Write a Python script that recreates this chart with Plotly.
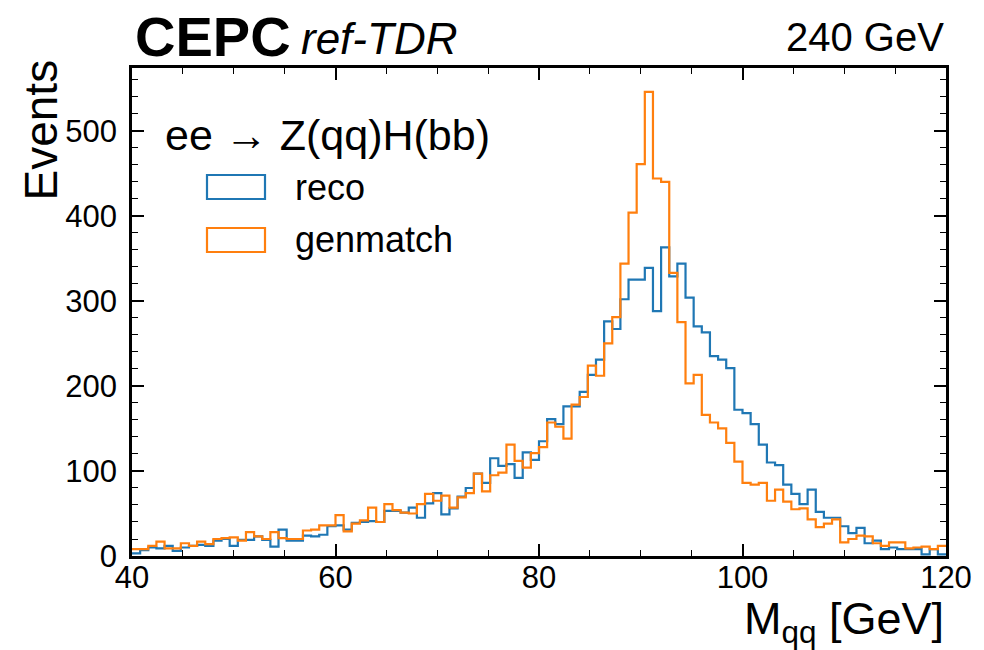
import numpy as np
import plotly.graph_objects as go

# Bin range of the Mqq histogram (100 bins, 40-120 GeV).
x_min = 40
x_max = 120
n_bins = 100

# Counts per bin.
reco = [
    3, 7, 10, 9, 12, 6, 10, 12, 13, 12,
    18, 20, 12, 19, 19, 23, 19, 11, 31, 18,
    18, 24, 23, 25, 35, 36, 31, 39, 40, 41,
    40, 53, 53, 51, 57, 45, 62, 74, 49, 56,
    70, 80, 97, 86, 115, 106, 108, 92, 122, 113,
    135, 161, 155, 176, 176, 193, 213, 231, 276, 267,
    302, 325, 325, 339, 288, 363, 329, 344, 304, 270,
    263, 235, 231, 221, 172, 168, 155, 131, 110, 107,
    84, 73, 61, 78, 52, 45, 45, 35, 27, 33,
    15, 18, 8, 10, 8, 8, 8, 2, 8, 2,
]
genmatch = [
    8, 8, 12, 17, 9, 9, 15, 12, 17, 14,
    20, 21, 22, 18, 28, 23, 20, 28, 21, 20,
    20, 30, 31, 36, 36, 48, 29, 38, 42, 57,
    40, 61, 54, 51, 50, 61, 73, 65, 71, 57,
    69, 74, 97, 76, 95, 98, 131, 112, 104, 121,
    128, 157, 152, 138, 178, 187, 224, 212, 250, 281,
    344, 404, 461, 546, 444, 440, 333, 275, 203, 213,
    166, 157, 150, 133, 111, 86, 84, 86, 65, 78,
    64, 55, 56, 43, 34, 38, 43, 16, 20, 24,
    23, 15, 12, 16, 16, 9, 10, 11, 8, 12,
]

series_names = ["reco", "genmatch"]
series_colors = ["#1f77b4", "#ff7f0e"]

x_ticks = [40, 60, 80, 100, 120]
y_ticks = [0, 100, 200, 300, 400, 500]

FONT = "Liberation Sans, Arial, sans-serif"

# Plot area in pixels (figure is 984 x 650).
L, R, T, B = 132, 946, 68, 556


def px(x):
    return (x - L) / (R - L)


def py(y):
    return (B - y) / (B - T)


def step_trace(counts, name, color):
    edges = np.linspace(x_min, x_max, n_bins + 1)
    y = list(counts) + [counts[-1]]
    return go.Scatter(
        x=edges,
        y=y,
        mode="lines",
        line=dict(shape="hv", color=color, width=2.2),
        name=name,
        showlegend=False,
        hoverinfo="skip",
    )


def text(fig, x, y, s, size, xanchor="left", yanchor="top", angle=0):
    fig.add_annotation(
        x=x, y=y, xref="paper", yref="paper",
        xanchor=xanchor, yanchor=yanchor, showarrow=False, textangle=angle,
        text=s, font=dict(family=FONT, size=size, color="black"),
    )


def main():
    fig = go.Figure()
    for counts, name, color in zip([reco, genmatch], series_names, series_colors):
        fig.add_trace(step_trace(counts, name, color))

    axis_common = dict(
        showline=True,
        linecolor="black",
        linewidth=2.5,
        mirror="allticks",
        ticks="inside",
        ticklen=12,
        tickwidth=1.5,
        tickcolor="black",
        showgrid=False,
        zeroline=False,
        tickfont=dict(family=FONT, size=31, color="black"),
    )

    fig.update_layout(
        width=984,
        height=650,
        margin=dict(l=L, r=984 - R, t=T, b=650 - B, autoexpand=False),
        plot_bgcolor="white",
        paper_bgcolor="white",
        font=dict(family=FONT, color="black"),
        xaxis=dict(
            range=[x_min, x_max],
            tickvals=x_ticks,
            minor=dict(ticks="inside", dtick=5, ticklen=6, tickcolor="black", tickwidth=1),
            ticklabelstandoff=-8,
            **axis_common,
        ),
        yaxis=dict(
            range=[0, 574],
            tickvals=y_ticks,
            minor=dict(ticks="inside", dtick=20, ticklen=6, tickcolor="black", tickwidth=1),
            ticklabelstandoff=6,
            **axis_common,
        ),
        showlegend=False,
    )

    # Experiment label and energy.
    text(fig, px(133), py(3), "<b>CEPC</b>", 56)
    text(fig, px(299), py(12), "<i>ref-TDR</i>", 44)
    text(fig, 1, py(13), "240 GeV", 40, xanchor="right")

    # Axis titles (matplotlib-style: y at top, x at right).
    text(fig, px(40), py(58), "Events", 46, xanchor="center", angle=-90)
    text(fig, 1, py(591), "M<sub>qq</sub> [GeV]", 45, xanchor="right")

    # Legend drawn by hand to get outlined patches.
    text(fig, px(163), py(135), "ee \u2192 Z(qq)H(bb)", 43, yanchor="middle")
    for i, (name, color) in enumerate(zip(series_names, series_colors)):
        yc = 187 + 53 * i
        fig.add_shape(
            type="rect", xref="paper", yref="paper",
            x0=px(207), x1=px(265), y0=py(yc - 12), y1=py(yc + 12),
            line=dict(color=color, width=2.2), fillcolor="rgba(0,0,0,0)",
        )
        text(fig, px(293), py(yc), name, 36, yanchor="middle")

    # Drop the browser's default body margin so the figure sits at (0, 0).
    fig.write_html(
        "out.html",
        config={"displayModeBar": False},
        post_script="document.body.style.margin='0';",
    )


if __name__ == "__main__":
    main()
